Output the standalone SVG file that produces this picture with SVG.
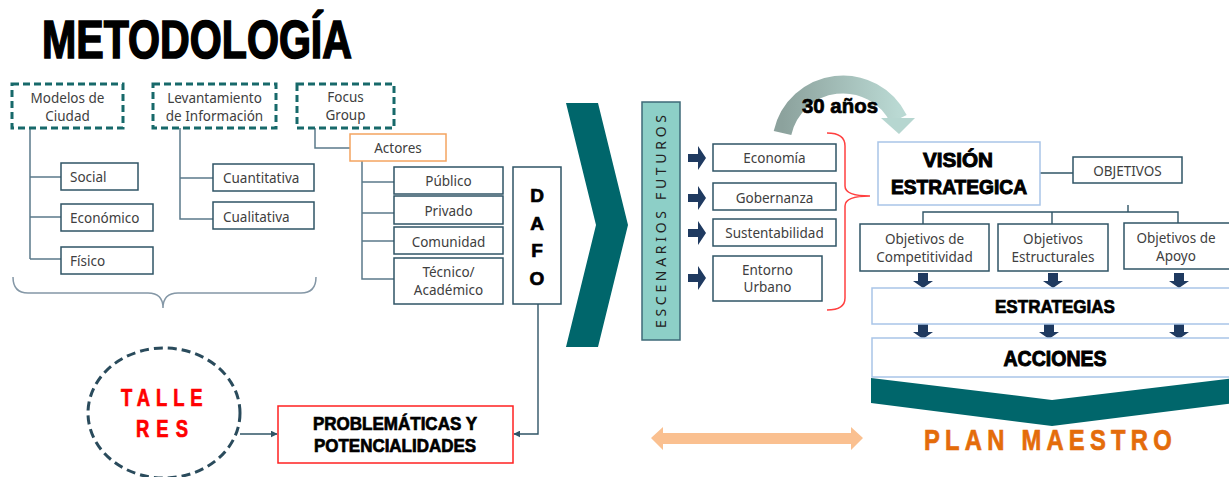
<svg xmlns="http://www.w3.org/2000/svg" width="1229" height="477" viewBox="0 0 1229 477">
<defs>
<style>
.t{font-family:"Noto Sans","Open Sans","DejaVu Sans",sans-serif;font-size:13.5px;fill:#404040}
.tm{text-anchor:middle}
.b{font-family:"Liberation Sans Narrow","Liberation Sans",Arial,sans-serif;font-weight:bold;fill:#000;stroke:#000;stroke-width:0.7}
.red{fill:#FF0000;stroke:#FF0000}
.org{fill:#E46C0A;stroke:#E46C0A}
.dash{fill:#fff;stroke:#17696A;stroke-width:3;stroke-dasharray:7 4}
.box{fill:#fff;stroke:#2F5466;stroke-width:1.5}
.lbox{fill:#fff;stroke:#A9C5E8;stroke-width:1.5}
.ln{fill:none;stroke:#5B7A8A;stroke-width:1.5}
.dl{fill:none;stroke:#2F5466;stroke-width:1.4}
.nav{fill:#1F3A60}
</style>
<marker id="ah" viewBox="0 0 10 10" refX="9" refY="5" markerWidth="7" markerHeight="7" orient="auto" markerUnits="userSpaceOnUse">
<path d="M0,0 L10,5 L0,10 z" fill="#2F5466"/>
</marker>
<linearGradient id="arcg" x1="0" y1="0" x2="1" y2="0">
<stop offset="0" stop-color="#8CA29D"/>
<stop offset="1" stop-color="#BAD9D3"/>
</linearGradient>
<path id="rarr" d="M-9,-4 h10 v-8 l8,12 l-8,12 v-8 h-10 z"/>
<path id="darr" d="M-5,-7 h10 v8 h5 l-10,7 l-10,-7 h5 z"/>
</defs>
<rect width="1229" height="477" fill="#fff"/>

<text id="title" class="b" x="42" y="58" font-size="53" style="stroke-width:1.6" textLength="310" lengthAdjust="spacingAndGlyphs">METODOLOGÍA</text>

<g id="connectors">
<path class="ln" d="M30,128 V259 M30,177 H61 M30,217 H61 M30,259 H61"/>
<path class="ln" d="M180,128 V219 H213 M180,178 H213"/>
<path class="ln" d="M315,128 V148 H350"/>
<path class="ln" d="M362,161 V279 H394 M362,182 H394 M362,213 H394 M362,241 H394"/>
<path d="M13,277 Q13,293 28,293 L148,293 Q163,293 163,308 Q163,293 178,293 L301,293 Q316,293 316,277" fill="none" stroke="#8497A6" stroke-width="1.5"/>
<path class="dl" d="M538,304 V434 H514" marker-end="url(#ah)"/>
<path class="dl" d="M240,434 H277" marker-end="url(#ah)"/>
<path d="M827,133 Q845,133 845,146 L845,186 Q845,196 870,196 Q845,196 845,206 L845,298 Q845,310 827,310" fill="none" stroke="#FF4040" stroke-width="1.5"/>
<path class="dl" d="M1040,173 H1073"/>
<path class="dl" d="M1128,205 V212 M923,224 V212 H1178 V224 M1052,212 V224"/>
<use href="#rarr" class="nav" x="697" y="158"/>
<use href="#rarr" class="nav" x="697" y="198"/>
<use href="#rarr" class="nav" x="697" y="233"/>
<use href="#rarr" class="nav" x="697" y="278"/>
<use href="#darr" class="nav" x="923" y="280"/>
<use href="#darr" class="nav" x="1053" y="280"/>
<use href="#darr" class="nav" x="1179" y="280"/>
<use href="#darr" class="nav" x="923" y="331"/>
<use href="#darr" class="nav" x="1049" y="331"/>
<use href="#darr" class="nav" x="1179" y="331"/>
<path d="M782.5,133 A62,62 0 0 1 898.6,119" fill="none" stroke="url(#arcg)" stroke-width="18"/>
<polygon points="881,118 915,118 899,134" fill="#B6D6D0"/>
<polygon points="651,438 663,427 663,433 851,433 851,427 863,438 851,450 851,444 663,444 663,450" fill="#FAC090"/>
</g>

<g id="n-modelos">
<rect class="dash" x="12" y="84" width="111" height="44"/>
<text class="t tm" x="67.5" y="103">Modelos de</text>
<text class="t tm" x="67.5" y="121">Ciudad</text>
</g>
<g id="n-levantamiento">
<rect class="dash" x="153" y="84" width="123" height="44"/>
<text class="t tm" x="214.5" y="103">Levantamiento</text>
<text class="t tm" x="214.5" y="121">de Información</text>
</g>
<g id="n-focus">
<rect class="dash" x="297" y="84" width="97" height="44"/>
<text class="t tm" x="345.5" y="102">Focus</text>
<text class="t tm" x="345.5" y="120">Group</text>
</g>
<g id="n-social"><rect class="box" x="61" y="163" width="77" height="27"/><text class="t" x="70" y="182">Social</text></g>
<g id="n-economico"><rect class="box" x="61" y="204" width="92" height="27"/><text class="t" x="70" y="223">Económico</text></g>
<g id="n-fisico"><rect class="box" x="61" y="247" width="92" height="27"/><text class="t" x="70" y="266">Físico</text></g>
<g id="n-cuantitativa"><rect class="box" x="213" y="164" width="101" height="27"/><text class="t" x="223" y="183">Cuantitativa</text></g>
<g id="n-cualitativa"><rect class="box" x="213" y="202" width="101" height="27"/><text class="t" x="223" y="222">Cualitativa</text></g>
<g id="n-actores"><rect x="350" y="134" width="96" height="27" fill="#fff" stroke="#F4A460" stroke-width="1.5"/><text class="t tm" x="398" y="153">Actores</text></g>
<g id="n-publico"><rect class="box" x="394" y="167" width="109" height="27"/><text class="t tm" x="448.5" y="186">Público</text></g>
<g id="n-privado"><rect class="box" x="394" y="196" width="109" height="28"/><text class="t tm" x="448.5" y="216">Privado</text></g>
<g id="n-comunidad"><rect class="box" x="394" y="227" width="109" height="27"/><text class="t tm" x="448.5" y="247">Comunidad</text></g>
<g id="n-tecnico"><rect class="box" x="394" y="258" width="109" height="46"/><text class="t tm" x="448.5" y="277">Técnico/</text><text class="t tm" x="448.5" y="295">Académico</text></g>

<g id="n-dafo">
<rect class="box" x="513" y="167" width="48" height="137"/>
<text class="b tm" x="537" y="202" font-size="19">D</text>
<text class="b tm" x="537" y="230" font-size="19">A</text>
<text class="b tm" x="537" y="257" font-size="19">F</text>
<text class="b tm" x="537" y="285" font-size="19">O</text>
</g>

<g id="n-talleres">
<ellipse cx="164" cy="413" rx="76" ry="65" fill="#fff" stroke="#2A4B5C" stroke-width="3" stroke-dasharray="9 5"/>
<text class="b red" transform="translate(121,406) scale(0.8,1)" x="0" y="0" font-size="23" textLength="102" lengthAdjust="spacing">TALLE</text>
<text class="b red" transform="translate(136,437) scale(0.8,1)" x="0" y="0" font-size="23" textLength="65" lengthAdjust="spacing">RES</text>
</g>

<g id="n-problematicas">
<rect x="278" y="406" width="235" height="57" fill="#fff" stroke="#FF2020" stroke-width="1.5"/>
<text class="b tm" x="395" y="430" font-size="18" textLength="164" lengthAdjust="spacingAndGlyphs">PROBLEMÁTICAS Y</text>
<text class="b tm" x="395" y="452" font-size="18" textLength="162" lengthAdjust="spacingAndGlyphs">POTENCIALIDADES</text>
</g>

<g id="n-chevron">
<polygon points="566,103 598,103 628,225 598,347 566,347 596,225" fill="#00666B"/>
</g>

<g id="n-escenarios">
<rect x="642" y="102" width="38" height="238" fill="#8DCFC7" stroke="#3E6A78" stroke-width="1.5"/>
<text class="t" x="0" y="0" transform="translate(666,328) rotate(-90)" style="font-size:14px;fill:#222" textLength="213" lengthAdjust="spacing">ESCENARIOS FUTUROS</text>
</g>

<g id="n-economia"><rect class="box" x="713" y="144" width="123" height="27"/><text class="t tm" x="774.5" y="163">Economía</text></g>
<g id="n-gobernanza"><rect class="box" x="713" y="183" width="123" height="27"/><text class="t tm" x="774.5" y="203">Gobernanza</text></g>
<g id="n-sustentabilidad"><rect class="box" x="713" y="219" width="123" height="27"/><text class="t tm" x="774.5" y="238">Sustentabilidad</text></g>
<g id="n-entorno"><rect class="box" x="713" y="256" width="109" height="45"/><text class="t tm" x="767.5" y="275">Entorno</text><text class="t tm" x="767.5" y="292">Urbano</text></g>

<g id="n-30anos">
<text class="b" x="802" y="113" font-size="21" textLength="76" lengthAdjust="spacingAndGlyphs">30 años</text>
</g>

<g id="n-vision">
<rect class="lbox" x="878" y="142" width="162" height="63"/>
<text class="b tm" x="958" y="167" font-size="21" style="stroke-width:1" textLength="70" lengthAdjust="spacingAndGlyphs">VISIÓN</text>
<text class="b tm" x="959" y="194" font-size="21" style="stroke-width:1" textLength="136" lengthAdjust="spacingAndGlyphs">ESTRATEGICA</text>
</g>
<g id="n-objetivos"><rect class="box" x="1073" y="157" width="109" height="26"/><text class="t tm" x="1127.5" y="176">OBJETIVOS</text></g>
<g id="n-competitividad"><rect class="box" x="860" y="224" width="129" height="47"/><text class="t tm" x="924.5" y="244">Objetivos de</text><text class="t tm" x="924.5" y="262">Competitividad</text></g>
<g id="n-estructurales"><rect class="box" x="998" y="224" width="110" height="47"/><text class="t tm" x="1053" y="244">Objetivos</text><text class="t tm" x="1053" y="262">Estructurales</text></g>
<g id="n-apoyo"><rect class="box" x="1124" y="223" width="110" height="46"/><text class="t tm" x="1176" y="243">Objetivos de</text><text class="t tm" x="1176" y="261">Apoyo</text></g>

<g id="n-estrategias">
<rect class="lbox" x="872" y="288" width="365" height="36"/>
<text class="b tm" x="1055" y="313" font-size="19" textLength="120" lengthAdjust="spacingAndGlyphs">ESTRATEGIAS</text>
</g>
<g id="n-acciones">
<rect class="lbox" x="872" y="338" width="365" height="39"/>
<text class="b tm" x="1055" y="366" font-size="22" style="stroke-width:1" textLength="103" lengthAdjust="spacingAndGlyphs">ACCIONES</text>
</g>
<g id="n-planmaestro">
<polygon points="871,378 1052,400 1235,378 1235,403 1052,426 871,403" fill="#00666B"/>
<text class="b org" transform="translate(924,450) scale(0.82,1)" x="0" y="0" font-size="29" textLength="302" lengthAdjust="spacing">PLAN MAESTRO</text>
</g>
</svg>
